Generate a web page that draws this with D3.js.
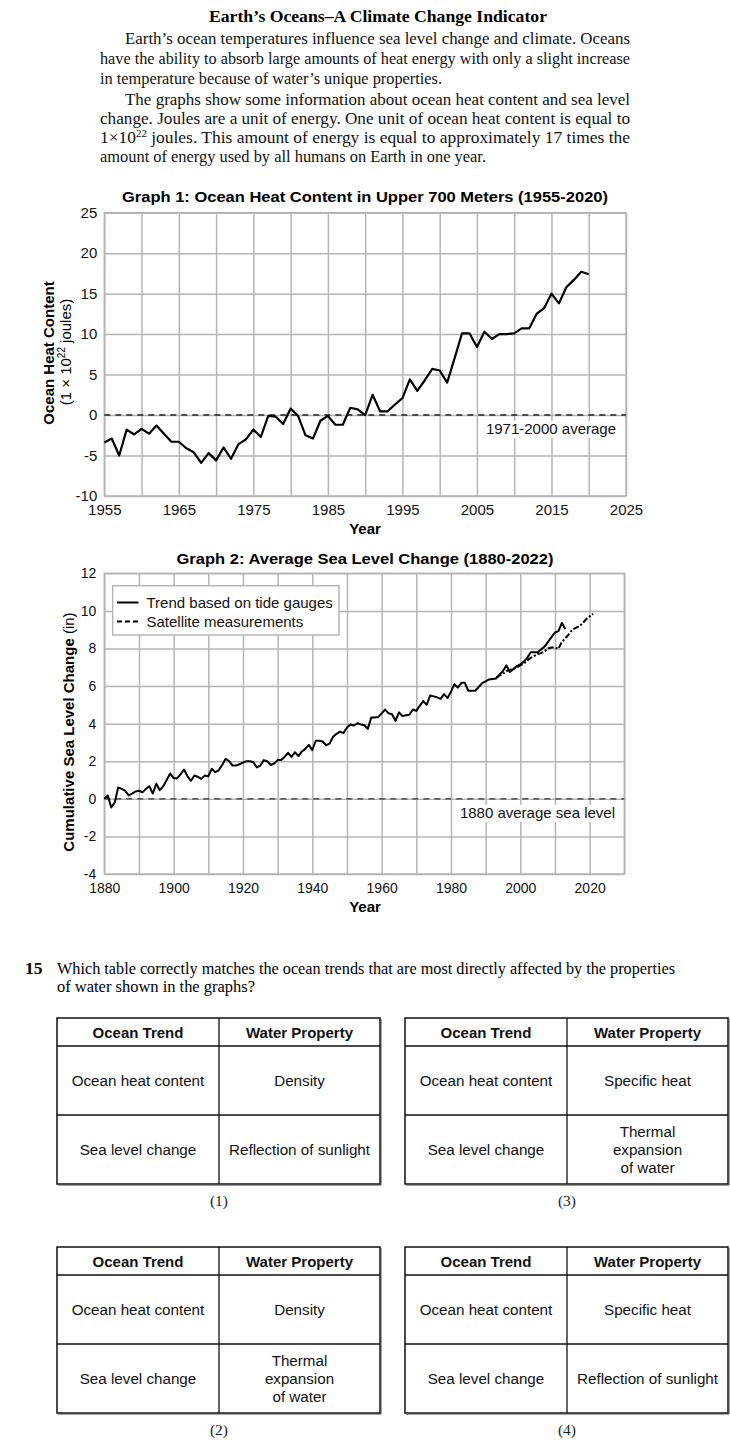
<!DOCTYPE html>
<html><head><meta charset="utf-8">
<script src="https://cdn.jsdelivr.net/npm/d3@7"></script>
<style>
html,body{margin:0;padding:0;background:#fff;}
svg{display:block;}
</style></head>
<body>
<svg id="chart" width="730" height="1447"></svg>
<script>
// ---------- DATA ----------
const heatStartYear = 1955;
const heatValues = [-3.4,-2.9,-5.0,-1.8,-2.4,-1.7,-2.3,-1.3,-2.3,-3.3,
  -3.3,-4.1,-4.6,-5.9,-4.7,-5.6,-4.0,-5.4,-3.6,-3.0,
  -1.8,-2.7,-0.1,-0.2,-1.1,0.8,-0.1,-2.5,-2.9,-0.7,
  -0.1,-1.2,-1.2,0.9,0.7,0.0,2.5,0.45,0.45,1.3,
  2.1,4.4,3.0,4.3,5.7,5.5,4.0,7.0,10.1,10.1,
  8.4,10.3,9.4,10.0,10.0,10.1,10.7,10.7,12.5,13.2,
  15.0,13.8,15.8,16.7,17.7,17.4];
const heatXTicks = [1955,1965,1975,1985,1995,2005,2015,2025];
const heatYTicks = [-10,-5,0,5,10,15,20,25];

const tideStartYear = 1880;
const tideValues = [0,0.18,-0.46,-0.2,0.6,0.53,0.43,0.18,0.28,0.39,
  0.43,0.35,0.53,0.67,0.28,0.8,0.46,0.67,1.0,1.35,
  1.1,1.1,1.3,1.56,1.2,0.96,1.24,1.17,1.06,1.24,
  1.2,1.6,1.42,1.52,1.8,2.13,2.0,1.77,1.77,1.84,
  1.93,2.0,2.0,1.95,1.67,1.77,2.06,2.0,1.8,1.88,
  2.06,2.06,2.23,2.45,2.23,2.48,2.27,2.52,2.66,2.87,
  2.59,3.09,3.09,3.05,2.85,2.94,3.3,3.46,3.58,3.5,
  3.8,3.95,3.9,4.02,3.96,3.92,3.72,4.33,4.33,4.35,
  4.55,4.75,4.55,4.5,4.15,4.6,4.4,4.45,4.47,4.75,
  4.68,4.95,5.2,5.0,5.5,5.45,5.4,5.32,5.57,5.36,
  5.7,6.1,5.92,6.17,6.17,5.75,5.75,5.75,5.95,6.15,
  6.25,6.35,6.38,6.4,6.6,6.8,7.1,6.75,6.9,7.06,
  7.15,7.3,7.5,7.8,7.8,7.8,7.95,8.1,8.35,8.6,
  8.85,8.92,9.36,9.04];
const satStartYear = 1993;
const satValues = [6.45,6.55,6.65,6.8,6.85,6.95,7.0,7.1,7.2,7.35,
  7.5,7.6,7.7,7.75,7.85,8.0,8.05,8.05,7.98,8.35,
  8.55,8.75,9.0,9.1,9.18,9.35,9.55,9.7,9.84];
const seaXTicks = [1880,1900,1920,1940,1960,1980,2000,2020];
const seaYTicks = [-4,-2,0,2,4,6,8,10,12];
const legendLabels = ["Trend based on tide gauges","Satellite measurements"];

const tableHeaders = ["Ocean Trend","Water Property"];
const tableTrends = ["Ocean heat content","Sea level change"];
const choiceLabels = ["(1)","(3)","(2)","(4)"];
const choiceProps = [
  ["Density",["Reflection of sunlight"]],
  ["Specific heat",["Thermal","expansion","of water"]],
  ["Density",["Thermal","expansion","of water"]],
  ["Specific heat",["Reflection of sunlight"]]
];

// ---------- SETUP ----------
const svg = d3.select("#chart");
const SERIF = "'Liberation Serif','DejaVu Serif',serif";
const SANS = "'Liberation Sans',Arial,sans-serif";
const GRID = "#b5b5b5";
const fmtTick = d => d < 0 ? "-" + Math.abs(d) : String(d);

// ---------- HEADER TEXT ----------
svg.append("text").attr("x",378).attr("y",22).attr("text-anchor","middle")
  .attr("font-family",SERIF).attr("font-weight","bold").attr("font-size",16.5)
  .attr("textLength",338).attr("lengthAdjust","spacingAndGlyphs")
  .text("Earth\u2019s Oceans\u2013A Climate Change Indicator");

const para = [
  {x:125,y:44,w:505,t:"Earth\u2019s ocean temperatures influence sea level change and climate. Oceans"},
  {x:100,y:64,w:530,t:"have the ability to absorb large amounts of heat energy with only a slight increase"},
  {x:100,y:84,w:342,t:"in temperature because of water\u2019s unique properties."},
  {x:125,y:105,w:505,t:"The graphs show some information about ocean heat content and sea level"},
  {x:100,y:124,w:530,t:"change. Joules are a unit of energy. One unit of ocean heat content is equal to"},
  {x:100,y:143,w:530,sup:true},
  {x:100,y:162,w:386,t:"amount of energy used by all humans on Earth in one year."}
];
para.forEach(p=>{
  const t = svg.append("text").attr("x",p.x).attr("y",p.y)
    .attr("font-family",SERIF).attr("font-size",16).attr("fill","#111")
    .attr("textLength",p.w).attr("lengthAdjust","spacingAndGlyphs");
  if(p.sup){
    t.append("tspan").text("1\u00d710");
    t.append("tspan").attr("font-size",10).attr("dy",-6).text("22");
    t.append("tspan").attr("dy",6).text(" joules. This amount of energy is equal to approximately 17 times the");
  } else t.text(p.t);
});

// ---------- GRAPH 1 ----------
const x1 = d3.scaleLinear().domain([1955,2025]).range([104.3,626]);
const y1 = d3.scaleLinear().domain([-10,25]).range([496,212.7]);
const g1 = svg.append("g");

g1.append("g").attr("transform","translate(0,496)")
  .call(d3.axisBottom(x1).tickValues(d3.range(1955,2026,5)).tickSize(-(496-212.7)).tickFormat(""))
  .call(g=>{g.select(".domain").remove(); g.selectAll("line").attr("stroke",GRID).attr("stroke-width",1.5);});
g1.append("g").attr("transform","translate(104.3,0)")
  .call(d3.axisLeft(y1).tickValues(heatYTicks).tickSize(-(626-104.3)).tickFormat(""))
  .call(g=>{g.select(".domain").remove(); g.selectAll("line").attr("stroke",GRID).attr("stroke-width",1.5);});
g1.append("rect").attr("x",104.3).attr("y",212.7).attr("width",626-104.3).attr("height",496-212.7)
  .attr("fill","none").attr("stroke",GRID).attr("stroke-width",1.5);

g1.append("g").attr("transform","translate(0,496)")
  .call(d3.axisBottom(x1).tickValues(heatXTicks).tickSize(0).tickPadding(8).tickFormat(d3.format("d")))
  .call(g=>{g.select(".domain").remove(); g.selectAll("text").attr("font-family",SANS).attr("font-size",15).attr("fill","#111");});
g1.append("g").attr("transform","translate(104.3,0)")
  .call(d3.axisLeft(y1).tickValues(heatYTicks).tickSize(0).tickPadding(7).tickFormat(fmtTick))
  .call(g=>{g.select(".domain").remove(); g.selectAll("text").attr("font-family",SANS).attr("font-size",15).attr("fill","#111");});

g1.append("line").attr("x1",104.3).attr("x2",626).attr("y1",y1(0)).attr("y2",y1(0))
  .attr("stroke","#222").attr("stroke-width",1.4).attr("stroke-dasharray","6,5");
g1.append("rect").attr("x",482).attr("y",y1(0)+6).attr("width",136).attr("height",17).attr("fill","#fff");
g1.append("text").attr("x",616).attr("y",y1(0)+19).attr("text-anchor","end")
  .attr("font-family",SANS).attr("font-size",15).attr("fill","#111").text("1971-2000 average");

g1.append("path").datum(heatValues)
  .attr("d",d3.line().x((d,i)=>x1(heatStartYear+i)).y(d=>y1(d)))
  .attr("fill","none").attr("stroke","#000").attr("stroke-width",2.2).attr("stroke-linejoin","round");

g1.append("text").attr("x",365).attr("y",202).attr("text-anchor","middle")
  .attr("font-family",SANS).attr("font-weight","bold").attr("font-size",15.5)
  .attr("textLength",486).attr("lengthAdjust","spacingAndGlyphs")
  .text("Graph 1: Ocean Heat Content in Upper 700 Meters (1955-2020)");
g1.append("text").attr("x",365).attr("y",534).attr("text-anchor","middle")
  .attr("font-family",SANS).attr("font-weight","bold").attr("font-size",15).text("Year");
g1.append("text").attr("transform","translate(54,353) rotate(-90)").attr("text-anchor","middle")
  .attr("font-family",SANS).attr("font-weight","bold").attr("font-size",15).text("Ocean Heat Content");
const yl = g1.append("text").attr("transform","translate(71,352) rotate(-90)").attr("text-anchor","middle")
  .attr("font-family",SANS).attr("font-size",15);
yl.append("tspan").text("(1 \u00d7 10");
yl.append("tspan").attr("font-size",10).attr("dy",-6).text("22");
yl.append("tspan").attr("dy",6).text(" joules)");

// ---------- GRAPH 2 ----------
const x2 = d3.scaleLinear().domain([1880,2030]).range([104.3,624.3]);
const y2 = d3.scaleLinear().domain([-4,12]).range([874,573.3]);
const g2 = svg.append("g");

g2.append("g").attr("transform","translate(0,874)")
  .call(d3.axisBottom(x2).tickValues(d3.range(1880,2031,10)).tickSize(-(874-573.3)).tickFormat(""))
  .call(g=>{g.select(".domain").remove(); g.selectAll("line").attr("stroke",GRID).attr("stroke-width",1.5);});
g2.append("g").attr("transform","translate(104.3,0)")
  .call(d3.axisLeft(y2).tickValues(seaYTicks).tickSize(-(624.3-104.3)).tickFormat(""))
  .call(g=>{g.select(".domain").remove(); g.selectAll("line").attr("stroke",GRID).attr("stroke-width",1.5);});
g2.append("rect").attr("x",104.3).attr("y",573.3).attr("width",624.3-104.3).attr("height",874-573.3)
  .attr("fill","none").attr("stroke",GRID).attr("stroke-width",1.5);

g2.append("g").attr("transform","translate(0,874)")
  .call(d3.axisBottom(x2).tickValues(seaXTicks).tickSize(0).tickPadding(9).tickFormat(d3.format("d")))
  .call(g=>{g.select(".domain").remove(); g.selectAll("text").attr("font-family",SANS).attr("font-size",14).attr("fill","#111");});
g2.append("g").attr("transform","translate(104.3,0)")
  .call(d3.axisLeft(y2).tickValues(seaYTicks).tickSize(0).tickPadding(8).tickFormat(fmtTick))
  .call(g=>{g.select(".domain").remove(); g.selectAll("text").attr("font-family",SANS).attr("font-size",14).attr("fill","#111");});

g2.append("line").attr("x1",104.3).attr("x2",624.3).attr("y1",y2(0)).attr("y2",y2(0))
  .attr("stroke","#333").attr("stroke-width",1.4).attr("stroke-dasharray","6,5");
g2.append("rect").attr("x",457).attr("y",y2(0)+6).attr("width",160).attr("height",17).attr("fill","#fff");
g2.append("text").attr("x",615).attr("y",y2(0)+19).attr("text-anchor","end")
  .attr("font-family",SANS).attr("font-size",15).attr("fill","#111").text("1880 average sea level");

g2.append("path").datum(satValues)
  .attr("d",d3.line().x((d,i)=>x2(satStartYear+i)).y(d=>y2(d)))
  .attr("fill","none").attr("stroke","#000").attr("stroke-width",2).attr("stroke-dasharray","6,2,2,2");
g2.append("path").datum(tideValues)
  .attr("d",d3.line().x((d,i)=>x2(tideStartYear+i)).y(d=>y2(d)))
  .attr("fill","none").attr("stroke","#000").attr("stroke-width",2).attr("stroke-linejoin","round");

// legend
g2.append("rect").attr("x",112.7).attr("y",585.7).attr("width",226.3).attr("height",49.3)
  .attr("fill","#fff").attr("stroke",GRID).attr("stroke-width",1.5);
legendLabels.forEach((lab,i)=>{
  const yy = 602.5 + i*19;
  g2.append("line").attr("x1",117).attr("x2",138.5).attr("y1",yy).attr("y2",yy)
    .attr("stroke","#000").attr("stroke-width",2).attr("stroke-dasharray",i?"5,3":null);
  g2.append("text").attr("x",146.5).attr("y",yy+5).attr("font-family",SANS).attr("font-size",15)
    .attr("fill","#111").text(lab);
});

g2.append("text").attr("x",365).attr("y",564).attr("text-anchor","middle")
  .attr("font-family",SANS).attr("font-weight","bold").attr("font-size",15.5)
  .attr("textLength",377).attr("lengthAdjust","spacingAndGlyphs")
  .text("Graph 2: Average Sea Level Change (1880-2022)");
g2.append("text").attr("x",365).attr("y",912).attr("text-anchor","middle")
  .attr("font-family",SANS).attr("font-weight","bold").attr("font-size",15).text("Year");
const yl2 = g2.append("text").attr("transform","translate(74,732) rotate(-90)").attr("text-anchor","middle")
  .attr("font-family",SANS).attr("font-size",15);
yl2.append("tspan").attr("font-weight","bold").text("Cumulative Sea Level Change");
yl2.append("tspan").text(" (in)");

// ---------- QUESTION ----------
svg.append("text").attr("x",25).attr("y",974).attr("font-family",SERIF).attr("font-weight","bold")
  .attr("font-size",17.5).text("15");
svg.append("text").attr("x",57).attr("y",974).attr("font-family",SERIF).attr("font-size",16)
  .attr("textLength",618).attr("lengthAdjust","spacingAndGlyphs")
  .text("Which table correctly matches the ocean trends that are most directly affected by the properties");
svg.append("text").attr("x",57).attr("y",992).attr("font-family",SERIF).attr("font-size",16)
  .attr("textLength",198).attr("lengthAdjust","spacingAndGlyphs")
  .text("of water shown in the graphs?");

// ---------- TABLES ----------
const tablePos = [
  {x:57,y:1018,split:219},
  {x:405,y:1018,split:567},
  {x:57,y:1247,split:219},
  {x:405,y:1247,split:567}
];
const tW = 323, hH = 28, rH = 69;
tablePos.forEach((p,k)=>{
  const g = svg.append("g");
  const totalH = hH + 2*rH;
  g.append("rect").attr("x",p.x).attr("y",p.y).attr("width",tW).attr("height",totalH)
    .attr("fill","#fff").attr("stroke","#111").attr("stroke-width",1.5);
  g.append("line").attr("x1",p.x+tW+1).attr("x2",p.x+tW+1).attr("y1",p.y+1).attr("y2",p.y+totalH+1)
    .attr("stroke","#444").attr("stroke-width",1);
  g.append("line").attr("x1",p.x+1).attr("x2",p.x+tW+1).attr("y1",p.y+totalH+1).attr("y2",p.y+totalH+1)
    .attr("stroke","#444").attr("stroke-width",1);
  g.append("line").attr("x1",p.split).attr("x2",p.split).attr("y1",p.y).attr("y2",p.y+totalH)
    .attr("stroke","#111").attr("stroke-width",1.3);
  [hH, hH+rH].forEach(dy=>g.append("line").attr("x1",p.x).attr("x2",p.x+tW)
    .attr("y1",p.y+dy).attr("y2",p.y+dy).attr("stroke","#111").attr("stroke-width",1.3));
  const c1 = (p.x+p.split)/2, c2 = (p.split+p.x+tW)/2;
  [c1,c2].forEach((cx,i)=>g.append("text").attr("x",cx).attr("y",p.y+19.5).attr("text-anchor","middle")
    .attr("font-family",SANS).attr("font-weight","bold").attr("font-size",15).attr("fill","#111").text(tableHeaders[i]));
  tableTrends.forEach((tr,r)=>{
    const cy = p.y + hH + rH*r + rH/2;
    g.append("text").attr("x",c1).attr("y",cy+5.5).attr("text-anchor","middle")
      .attr("font-family",SANS).attr("font-size",15.2).attr("fill","#111").text(tr);
  });
  const props = choiceProps[k];
  g.append("text").attr("x",c2).attr("y",p.y+hH+rH/2+5.5).attr("text-anchor","middle")
    .attr("font-family",SANS).attr("font-size",15.2).attr("fill","#111").text(props[0]);
  const lines = props[1];
  lines.forEach((ln,j)=>{
    const cy = p.y + hH + rH + rH/2 + (j-(lines.length-1)/2)*18.3;
    g.append("text").attr("x",c2).attr("y",cy+5.5).attr("text-anchor","middle")
      .attr("font-family",SANS).attr("font-size",15.2).attr("fill","#111").text(ln);
  });
  g.append("text").attr("x",p.split).attr("y",p.y+totalH+22).attr("text-anchor","middle")
    .attr("font-family",SERIF).attr("font-size",15.5).attr("fill","#222").text(choiceLabels[k]);
});
</script>
</body></html>
